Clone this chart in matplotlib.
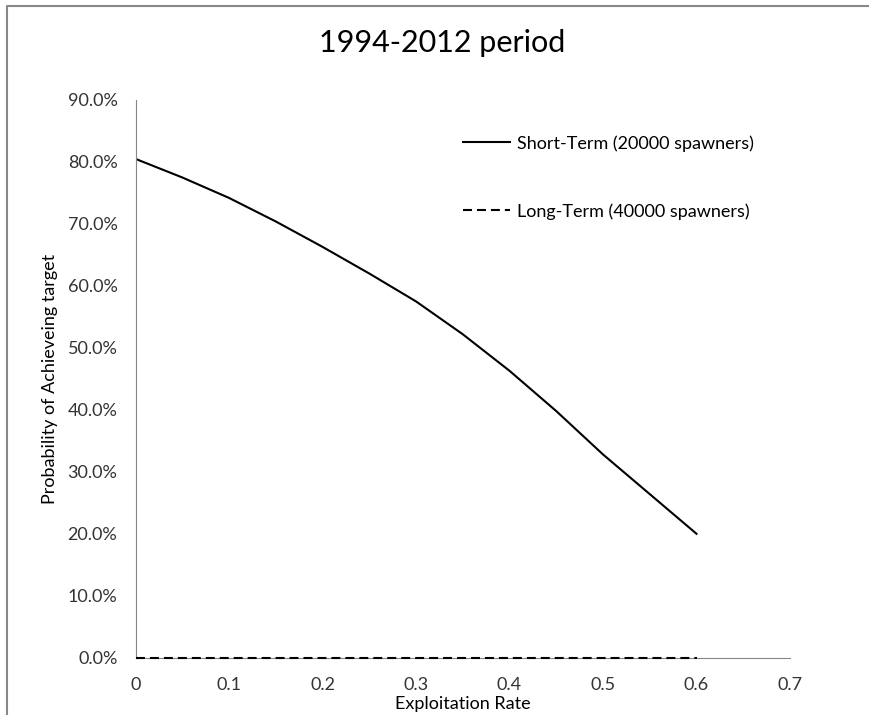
import matplotlib
matplotlib.use('Agg')
import matplotlib.pyplot as plt
from matplotlib.lines import Line2D
from matplotlib.ticker import FuncFormatter

plt.rcParams['font.family'] = ['Lato', 'DejaVu Sans']

# exploitation rate and probability (%) of achieving target
rate = [0.0, 0.05, 0.1, 0.15, 0.2, 0.25, 0.3, 0.35, 0.4, 0.45, 0.5, 0.55, 0.6]
short_term = [80.5, 77.5, 74.2, 70.4, 66.3, 62.0, 57.5, 52.2, 46.3, 39.8, 32.8, 26.4, 20.0]
long_term = [0.0, 0.0, 0.0, 0.0, 0.0, 0.0, 0.0, 0.0, 0.0, 0.0, 0.0, 0.0, 0.0]

fig = plt.figure(figsize=(8.69, 7.15), dpi=100)
W, H = 869, 715
ax = fig.add_axes([135.5 / W, 1 - 657.7 / H, (790 - 135.5) / W, (657.7 - 100) / H])

ax.plot(rate, short_term, color='black', lw=1.5, label='Short-Term (20000 spawners)')
ax.plot(rate, long_term, color='black', lw=1.5, dashes=(4.3, 2.4),
        label='Long-Term (40000 spawners)', clip_on=False, zorder=5)

ax.set_xlim(0, 0.7)
ax.set_ylim(0, 90)
ax.set_xticks([0, 0.1, 0.2, 0.3, 0.4, 0.5, 0.6, 0.7])
ax.set_xticklabels(['0', '0.1', '0.2', '0.3', '0.4', '0.5', '0.6', '0.7'])
ax.set_yticks(range(0, 91, 10))
ax.yaxis.set_major_formatter(FuncFormatter(lambda v, p: '%.1f%%' % v))
ax.tick_params(axis='both', length=0, labelsize=13, colors='#333333')
ax.tick_params(axis='x', pad=14)
ax.tick_params(axis='y', pad=13)

for s in ['top', 'right']:
    ax.spines[s].set_visible(False)
for s in ['left', 'bottom']:
    ax.spines[s].set_color('#868686')
    ax.spines[s].set_linewidth(0.8)

fig.text(442 / W, 1 - 43 / H, '1994-2012 period', fontsize=22, ha='center', va='center')
ax.set_xlabel('Exploitation Rate', fontsize=13, va='center')
ax.xaxis.set_label_coords(0.5, -(704 - 657.7) / (657.7 - 100))
ax.set_ylabel('Probability of Achieveing target', fontsize=13, va='center')
ax.yaxis.set_label_coords(-(135.5 - 50) / (790 - 135.5), 0.5)

ax.legend(loc='upper left', bbox_to_anchor=(463 / W, 1 - 135 / H), bbox_transform=fig.transFigure,
          frameon=False, fontsize=13, handlelength=2.6, handletextpad=0.4, labelspacing=2.85,
          borderpad=0, borderaxespad=0)

# chart area border (left and top visible)
fig.add_artist(Line2D([7 / W, 7 / W, 1], [0, 1 - 6 / H, 1 - 6 / H], color='#888888', lw=1.5))

plt.savefig('out.png', dpi=100)
